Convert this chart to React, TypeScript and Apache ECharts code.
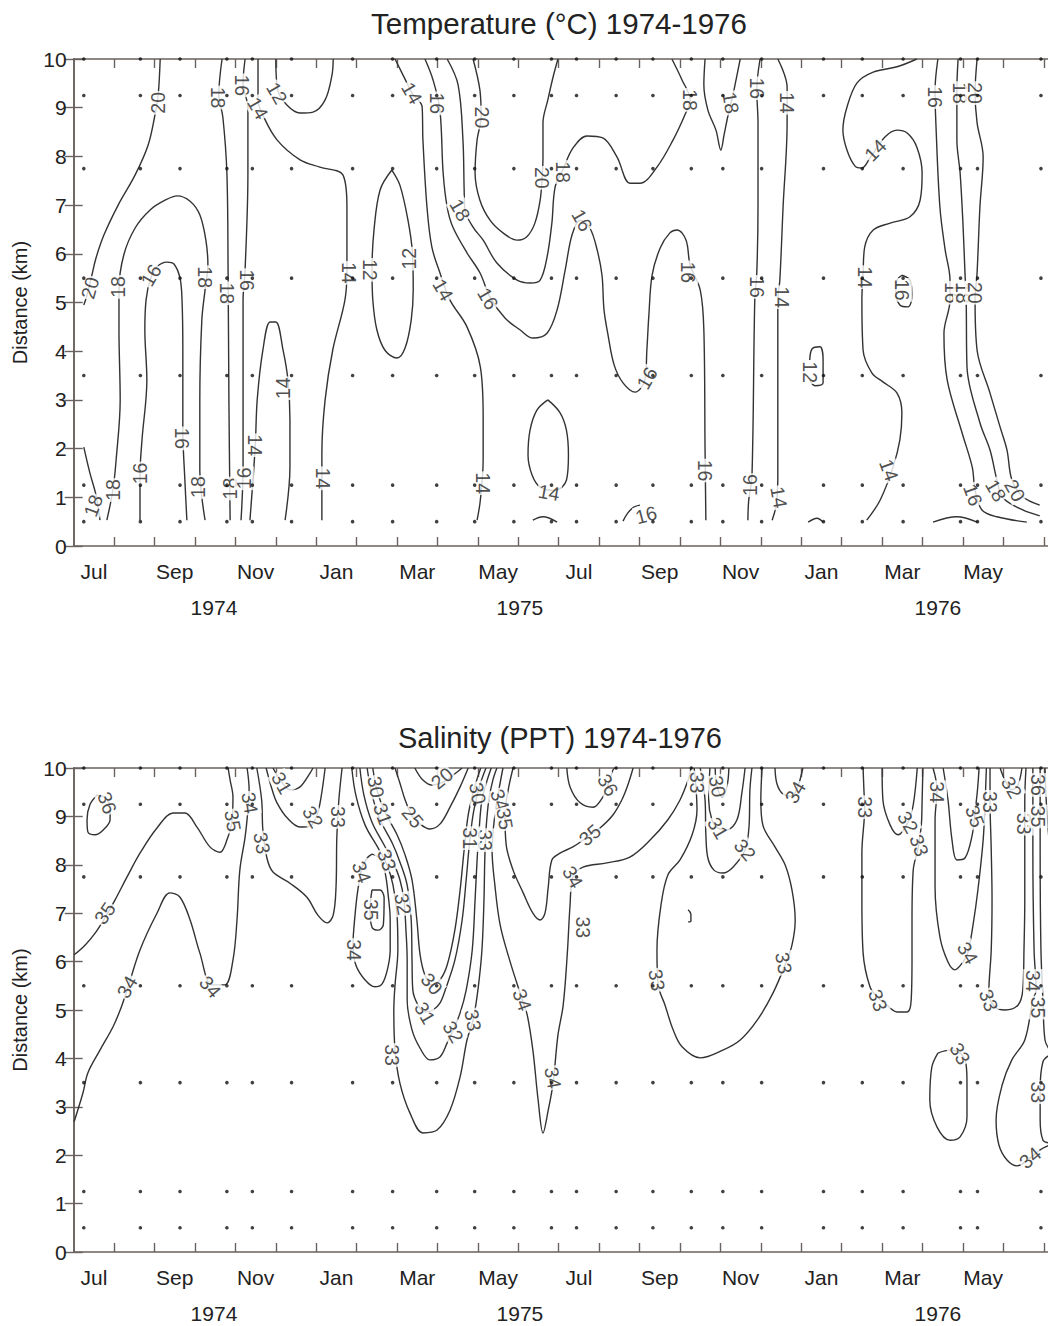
import React, { useEffect, useRef } from "react";
import * as echarts from "echarts";

// Time axis: months after 1 Jul 1974.  Depth axis: distance in km.
const X_MAX = 24.2;
const MONTH_NAMES = ["Jul", "Aug", "Sep", "Oct", "Nov", "Dec", "Jan", "Feb", "Mar", "Apr", "May", "Jun"];
const MONTH_LABEL_AT = [0.5, 2.5, 4.5, 6.5, 8.5, 10.5, 12.5, 14.5, 16.5, 18.5, 20.5, 22.5];
const MONTH_TICKS = [1, 2, 3, 4, 5, 6, 7, 8, 9, 10, 11, 12, 13, 14, 15, 16, 17, 18, 19, 20, 21, 22, 23, 24];
const YEARS = ["1974", "1975", "1976"];
const YEAR_AT = [3.47, 11.04, 21.38];

// Sampling survey dates (months) and station distances (km)
const SAMPLE_MONTHS = [0.25, 1.65, 2.63, 3.79, 4.42, 5.39, 6.9, 7.89, 8.98, 9.92, 10.89, 11.82, 12.44, 13.42, 14.33, 15.28, 16.06, 17.02, 18.55, 19.51, 20.52, 21.94, 22.36, 23.93];
const SAMPLE_KM = [0.5, 1.25, 3.5, 5.5, 7.75, 9.25, 10];

// ---------- Temperature isotherms ([month, km]) ----------
const T20_A = [[2.14, 10], [2.09, 9.26], [2.01, 8.85], [1.84, 8.23], [1.52, 7.62], [1.1, 7.0], [0.75, 6.39], [0.55, 5.91], [0.45, 5.56], [0.33, 5.15], [0.25, 4.95]];
const T18_A = [[0.82, 0.53], [0.97, 1.15], [1.05, 1.77], [1.15, 3.0], [1.12, 4.44], [1.12, 5.26], [1.24, 5.98], [1.52, 6.53], [1.89, 6.9], [2.26, 7.1], [2.56, 7.19], [2.88, 7.08], [3.12, 6.8], [3.27, 6.28], [3.32, 5.77], [3.25, 5.26], [3.17, 4.64], [3.12, 3.0], [3.12, 1.56], [3.25, 0.53]];
const T16_A = [[1.64, 0.53], [1.64, 1.46], [1.69, 2.18], [1.81, 3.41], [1.76, 4.44], [1.79, 5.05], [1.89, 5.46], [2.06, 5.73], [2.31, 5.83], [2.48, 5.79], [2.63, 5.5], [2.68, 5.05], [2.7, 4.02], [2.7, 2.38], [2.75, 1.36], [2.8, 0.53]];
const T18_B = [[0.25, 2.03], [0.4, 1.5], [0.55, 1.05], [0.65, 0.53]];
const T18_C = [[3.67, 10], [3.59, 9.26], [3.69, 8.81], [3.79, 7.66], [3.82, 5.6], [3.84, 2.99], [3.87, 0.53]];
const T16_B = [[4.24, 10], [4.19, 9.5], [4.31, 9.0], [4.31, 7.65], [4.24, 5.66], [4.19, 5.05], [4.19, 1.62], [4.14, 0.53]];
const T14_A = [[4.56, 10], [4.56, 9.16], [4.68, 8.85], [5.03, 8.34], [5.6, 7.93], [6.09, 7.78], [6.66, 7.62], [6.76, 6.96], [6.76, 5.67], [6.71, 5.05], [6.41, 4.03], [6.22, 3.0], [6.14, 1.91], [6.14, 0.53]];
const T14_B = [[4.36, 0.53], [4.49, 2.03], [4.54, 3.0], [4.68, 4.02], [4.86, 4.6], [5.0, 4.6], [5.18, 4.02], [5.3, 3.41], [5.35, 2.59], [5.35, 1.62], [5.23, 0.53]];
const T12_A = [[5.0, 10], [5.05, 9.36], [5.28, 9.05], [5.6, 8.89], [5.92, 8.91], [6.22, 9.16], [6.39, 9.67], [6.42, 10]];
const T12_B = [[7.87, 7.72], [7.58, 7.31], [7.43, 6.49], [7.38, 5.67], [7.4, 5.05], [7.5, 4.44], [7.7, 4.02], [8.0, 3.86], [8.2, 4.07], [8.35, 4.64], [8.4, 5.26], [8.38, 6.02], [8.27, 6.69], [8.07, 7.41], [7.87, 7.72]];
const T14_C = [[7.95, 10], [8.25, 9.5], [8.37, 9.3], [8.62, 9.02], [8.64, 8.34], [8.74, 6.96], [8.86, 6.14], [9.06, 5.61], [9.31, 5.05], [9.73, 4.5], [10.06, 3.68], [10.13, 2.65], [10.13, 1.77], [10.06, 0.94], [9.98, 0.53]];
const T16_C = [[8.69, 10], [8.89, 9.57], [9.06, 8.95], [9.14, 7.66], [9.24, 6.96], [9.38, 6.55], [9.73, 6.02], [10.05, 5.61], [10.3, 5.11], [10.67, 4.68], [11.04, 4.44], [11.36, 4.27], [11.71, 4.37], [11.96, 4.85], [12.16, 5.67], [12.33, 6.39], [12.53, 6.69], [12.77, 6.53], [12.95, 6.08], [13.07, 5.56], [13.12, 4.85], [13.22, 4.33], [13.37, 3.72], [13.59, 3.35], [13.89, 3.16], [14.13, 3.41], [14.18, 4.02], [14.23, 4.74], [14.31, 5.56], [14.51, 6.12], [14.75, 6.43], [14.93, 6.49], [15.15, 6.28], [15.25, 5.77], [15.5, 5.26], [15.59, 4.44], [15.62, 1.97], [15.64, 0.53]];
const T18_D = [[9.24, 10], [9.51, 9.47], [9.63, 8.34], [9.66, 7.31], [9.68, 6.9], [9.88, 6.55], [10.13, 6.28], [10.47, 5.81], [10.97, 5.46], [11.29, 5.4], [11.54, 5.46], [11.71, 5.93], [11.83, 6.63], [11.91, 7.37], [12.1, 7.72], [12.35, 8.17], [12.7, 8.42], [13.09, 8.38], [13.44, 7.99], [13.76, 7.45], [14.01, 7.45], [14.43, 7.78], [14.83, 8.34], [15.12, 8.85], [15.25, 9.16], [15.05, 9.57], [14.8, 10]];
const T20_B = [[9.88, 10], [10.05, 9.36], [10.08, 8.81], [9.98, 8.34], [9.93, 7.66], [10.05, 7.1], [10.3, 6.69], [10.62, 6.43], [10.97, 6.28], [11.21, 6.35], [11.41, 6.63], [11.54, 7.1], [11.59, 7.58], [11.61, 7.99], [11.61, 8.69], [11.73, 9.16], [11.86, 9.63], [11.98, 10]];
const T14_E = [[11.73, 3.0], [11.46, 2.79], [11.29, 2.38], [11.24, 1.87], [11.34, 1.46], [11.54, 1.21], [11.91, 1.14], [12.19, 1.35], [12.24, 1.87], [12.19, 2.38], [12.03, 2.74], [11.73, 3.0]];
const T14_F = [[11.36, 0.53], [11.61, 0.6], [11.96, 0.49]];
const T16_D = [[13.59, 0.51], [13.71, 0.68], [13.86, 0.8], [14.01, 0.84]];
const T18_E = [[15.62, 10], [15.59, 9.47], [15.69, 8.95], [15.89, 8.54], [16.01, 8.13], [16.09, 8.44], [16.19, 8.85], [16.31, 9.26], [16.41, 9.67], [16.49, 10]];
const T16_E = [[16.98, 10], [16.9, 9.36], [16.93, 8.69], [16.93, 6.96], [16.9, 5.61], [16.85, 5.05], [16.78, 1.42], [16.7, 0.94], [16.68, 0.53]];
const T14_G = [[17.42, 10], [17.65, 9.42], [17.65, 8.69], [17.55, 6.96], [17.47, 5.46], [17.42, 5.05], [17.42, 1.36], [17.38, 0.84], [17.28, 0.53]];
const T12_C = [[18.21, 3.82], [18.27, 4.05], [18.46, 4.09], [18.54, 3.82], [18.54, 3.35], [18.34, 3.29], [18.21, 3.41]];
const T12_D = [[18.17, 0.49], [18.39, 0.57], [18.54, 0.49]];
const T14_H = [[20.86, 10], [20.37, 9.84], [19.78, 9.73], [19.38, 9.51], [19.13, 9.01], [19.03, 8.54], [19.13, 8.13], [19.33, 7.8], [19.5, 7.76], [19.7, 7.97], [20.07, 8.4], [20.37, 8.54], [20.62, 8.48], [20.86, 8.19], [20.99, 7.66], [20.94, 7.1], [20.69, 6.76], [20.2, 6.63], [19.78, 6.49], [19.57, 6.14], [19.53, 5.61], [19.5, 5.05], [19.53, 4.02], [19.75, 3.55], [20.02, 3.37], [20.37, 3.14], [20.49, 2.73], [20.44, 2.18], [20.27, 1.62], [19.95, 0.94], [19.62, 0.53]];
const T16_F = [[20.49, 5.56], [20.69, 5.46], [20.74, 5.15], [20.64, 4.91], [20.44, 4.95], [20.34, 5.2], [20.37, 5.46], [20.49, 5.56]];
const T16_G = [[21.38, 10], [21.31, 9.36], [21.33, 8.69], [21.43, 6.96], [21.56, 6.08], [21.68, 5.46], [21.68, 5.05], [21.53, 4.37], [21.61, 3.41], [21.98, 2.32], [22.23, 1.62], [22.3, 1.15], [22.47, 0.74], [22.84, 0.6], [23.58, 0.49]];
const T18_F = [[21.88, 10], [21.85, 9.36], [21.85, 8.34], [21.93, 7.66], [22.0, 6.63], [22.05, 5.61], [22.08, 5.05], [22.1, 3.68], [22.42, 2.53], [22.67, 1.97], [22.84, 1.36], [22.99, 0.99], [23.48, 0.74], [23.9, 0.62]];
const T20_C = [[22.35, 10], [22.3, 9.3], [22.35, 8.69], [22.5, 7.99], [22.42, 6.96], [22.35, 5.61], [22.3, 5.05], [22.35, 4.02], [22.67, 3.14], [22.92, 2.44], [23.09, 1.97], [23.21, 1.36], [23.48, 1.01], [23.9, 0.84]];
const T16_H = [[21.26, 0.49], [21.85, 0.6], [22.35, 0.49]];

const TEMP_LINES = [T20_A, T18_A, T16_A, T18_B, T18_C, T16_B, T14_A, T14_B, T12_A, T12_B, T14_C, T16_C, T18_D, T20_B, T14_E, T14_F, T16_D, T18_E, T16_E, T14_G, T12_C, T12_D, T14_H, T16_F, T16_G, T18_F, T20_C, T16_H];

// Inline isotherm labels: [month, km, °C] and their text angles
const TEMP_LABELS = [
  [2.09, 9.1, 20], [0.4, 5.3, 20],
  [1.1, 5.32, 18], [3.25, 5.52, 18], [0.97, 1.15, 18], [3.07, 1.21, 18],
  [1.91, 5.56, 16], [1.64, 1.49, 16], [2.68, 2.21, 16],
  [0.48, 0.83, 18],
  [3.57, 9.21, 18], [3.79, 5.19, 18], [3.87, 1.18, 18],
  [4.16, 9.46, 16], [4.29, 5.46, 16], [4.21, 1.39, 16],
  [4.56, 8.99, 14], [6.81, 5.61, 14], [6.17, 1.39, 14],
  [4.49, 2.07, 14], [5.18, 3.24, 14],
  [5.03, 9.3, 12],
  [7.33, 5.67, 12], [8.3, 5.9, 12],
  [8.37, 9.3, 14], [9.14, 5.26, 14], [10.13, 1.29, 14],
  [8.99, 9.09, 16], [10.25, 5.08, 16], [12.58, 6.69, 16], [14.18, 3.45, 16], [15.2, 5.62, 16], [15.62, 1.55, 16],
  [9.56, 6.9, 18], [12.1, 7.68, 18], [15.25, 9.16, 18],
  [10.1, 8.8, 20], [11.59, 7.56, 20],
  [11.76, 1.1, 14],
  [14.16, 0.64, 16],
  [16.26, 9.1, 18],
  [16.9, 9.4, 16], [16.9, 5.32, 16], [16.73, 1.25, 16],
  [17.65, 9.1, 14], [17.52, 5.11, 14], [17.45, 1.0, 14],
  [18.22, 3.57, 12],
  [19.83, 8.13, 14], [19.58, 5.52, 14], [20.17, 1.56, 14],
  [20.5, 5.26, 16],
  [21.31, 9.22, 16], [21.73, 5.2, 16], [22.25, 1.05, 16],
  [21.93, 9.3, 18], [22.0, 5.2, 18], [22.82, 1.14, 18],
  [22.3, 9.3, 20], [22.3, 5.2, 20], [23.29, 1.14, 20],
];
const TEMP_LABEL_ANGLES = [
  90, 75,
  90, -90, 90, 90,
  60, 90, -90,
  70,
  -90, -90, 90,
  -90, -90, 90,
  -60, -90, -90,
  -90, 90,
  -60,
  -90, 90,
  -60, -60, -90,
  -90, -60, -60, 60, -90, -90,
  -60, -90, -90,
  -90, -90,
  -10,
  15,
  -80,
  -90, -90, 90,
  -90, -90, -80,
  -90,
  45, -90, -70,
  -90,
  -90, -90, -70,
  -90, -90, -60,
  -90, -90, -60,
];

// ---------- Salinity isohalines ([month, km]) ----------
const S36_A = [[0.58, 9.44], [0.75, 9.4], [0.9, 9.2], [0.9, 8.93], [0.73, 8.72], [0.53, 8.62], [0.35, 8.68], [0.33, 8.93], [0.4, 9.24], [0.58, 9.44]];
const S35_A = [[0.01, 6.14], [0.28, 6.34], [0.53, 6.59], [0.77, 6.9], [1.02, 7.27], [1.32, 7.75], [1.64, 8.24], [2.06, 8.76], [2.46, 9.07], [2.75, 9.07], [3.05, 8.78], [3.37, 8.37], [3.62, 8.26], [3.79, 8.51], [3.92, 8.93], [3.94, 9.4], [3.87, 9.75], [3.82, 10]];
const S34_A = [[0.01, 2.69], [0.23, 3.29], [0.35, 3.7], [0.65, 4.17], [0.97, 4.65], [1.15, 5.0], [1.32, 5.41], [1.64, 6.24], [2.06, 7.0], [2.38, 7.42], [2.63, 7.33], [2.88, 6.86], [3.12, 6.18], [3.42, 5.52], [3.74, 5.52], [3.94, 6.03], [4.04, 6.86], [4.11, 7.89], [4.24, 8.57], [4.31, 9.13], [4.34, 9.55], [4.29, 10]];
const S33_A = [[4.53, 10], [4.65, 9.34], [4.68, 8.72], [4.78, 8.14], [4.93, 7.85], [5.35, 7.62], [5.77, 7.33], [6.04, 6.96], [6.27, 6.8], [6.42, 6.96], [6.49, 7.54], [6.51, 8.57], [6.56, 9.34], [6.64, 10]];
const S31_A = [[4.93, 10], [5.1, 9.77], [5.35, 9.55], [5.6, 9.61], [5.85, 9.9], [5.92, 10]];
const S32_A = [[4.76, 10], [4.91, 9.55], [5.03, 9.28], [5.28, 8.97], [5.6, 8.78], [5.85, 8.8], [6.02, 9.03], [6.12, 9.4], [6.22, 10]];
const S34_B = [[7.38, 8.22], [7.26, 8.14], [7.13, 7.93], [7.03, 7.48], [6.96, 6.96], [6.91, 6.34], [6.98, 5.93], [7.21, 5.62], [7.45, 5.48], [7.63, 5.54], [7.76, 5.83], [7.83, 6.24], [7.83, 6.86], [7.78, 7.38], [7.7, 7.85], [7.56, 8.14], [7.38, 8.22]];
const S35_B = [[7.38, 7.48], [7.58, 7.48], [7.68, 7.31], [7.66, 6.76], [7.53, 6.65], [7.38, 6.71], [7.33, 7.07], [7.38, 7.48]];
const S33_B = [[6.88, 10], [6.98, 9.44], [7.21, 8.82], [7.53, 8.35], [7.75, 8.0], [7.9, 7.58], [8.0, 6.96], [8.02, 6.24], [7.95, 5.52], [7.92, 5.0], [7.95, 4.17], [8.07, 3.49], [8.32, 2.87], [8.64, 2.46], [8.99, 2.52], [9.31, 2.93], [9.56, 3.62], [9.73, 4.38], [9.88, 4.79], [10.0, 5.41], [10.1, 6.24], [10.15, 7.27], [10.17, 8.1], [10.2, 8.72], [10.27, 9.34], [10.37, 9.75], [10.47, 10]];
const S32_B = [[7.08, 10], [7.18, 9.44], [7.38, 8.88], [7.68, 8.41], [7.9, 8.06], [8.07, 7.69], [8.17, 7.27], [8.22, 6.65], [8.25, 6.03], [8.25, 5.21], [8.37, 4.59], [8.57, 4.21], [8.81, 3.97], [9.06, 4.03], [9.24, 4.32], [9.39, 4.59], [9.56, 4.94], [9.71, 5.41], [9.86, 6.24], [9.93, 7.27], [9.98, 8.1], [10.03, 8.72], [10.1, 9.34], [10.23, 9.75], [10.33, 10]];
const S31_B = [[7.26, 10], [7.38, 9.44], [7.58, 8.93], [7.88, 8.45], [8.07, 8.06], [8.25, 7.58], [8.35, 6.86], [8.37, 6.03], [8.39, 5.41], [8.52, 5.1], [8.69, 4.96], [8.89, 5.0], [9.06, 5.14], [9.19, 5.41], [9.43, 6.03], [9.61, 6.86], [9.71, 7.69], [9.8, 8.51], [9.9, 9.13], [10.05, 9.65], [10.2, 10]];
const S30_A = [[7.4, 10], [7.5, 9.55], [7.7, 9.09], [8.0, 8.62], [8.2, 8.2], [8.37, 7.69], [8.49, 6.86], [8.57, 6.14], [8.69, 5.72], [8.86, 5.52], [9.06, 5.62], [9.24, 5.93], [9.43, 6.65], [9.56, 7.48], [9.66, 8.31], [9.76, 9.03], [9.9, 9.55], [10.07, 10]];
const S25_A = [[7.95, 10], [8.07, 9.69], [8.2, 9.34], [8.37, 9.01], [8.57, 8.84], [8.81, 8.74], [9.06, 8.84], [9.31, 9.19], [9.56, 9.61], [9.76, 10]];
const S20_A = [[8.44, 10], [8.62, 9.77], [8.86, 9.65], [9.19, 9.73], [9.43, 9.88], [9.61, 10]];
const S34_C = [[10.62, 10], [10.52, 9.55], [10.42, 9.03], [10.35, 8.31], [10.42, 7.58], [10.55, 6.76], [10.8, 5.99], [11.1, 5.21], [11.22, 4.9], [11.36, 4.17], [11.49, 3.14], [11.61, 2.46], [11.74, 2.93], [11.86, 3.49], [11.98, 4.48], [12.11, 5.1], [12.21, 6.14], [12.28, 7.17], [12.35, 7.75], [12.6, 7.95], [13.19, 8.04], [13.76, 8.16], [14.26, 8.51], [14.7, 8.93], [15.0, 9.34], [15.2, 9.75], [15.27, 10]];
const S35_C = [[10.87, 10], [10.75, 9.55], [10.67, 9.03], [10.7, 8.41], [10.87, 7.89], [11.12, 7.42], [11.36, 7.0], [11.54, 6.86], [11.66, 7.0], [11.74, 7.54], [11.83, 8.1], [12.03, 8.24], [12.35, 8.37], [12.6, 8.51], [12.77, 8.62], [13.02, 8.76], [13.34, 9.03], [13.56, 9.34], [13.71, 9.65], [13.84, 10]];
const S36_B = [[12.2, 10], [12.28, 9.61], [12.53, 9.28], [12.85, 9.19], [13.09, 9.4], [13.22, 9.65], [13.34, 9.96], [13.39, 10]];
const S33_C = [[15.35, 10], [15.4, 9.55], [15.42, 9.13], [15.3, 8.62], [15.0, 8.1], [14.7, 7.79], [14.53, 7.17], [14.43, 6.24], [14.46, 5.52], [14.63, 5.1], [14.83, 4.59], [15.05, 4.24], [15.5, 4.01], [16.06, 4.17], [16.49, 4.38], [16.91, 4.79], [17.3, 5.35], [17.6, 5.93], [17.77, 6.34], [17.85, 6.86], [17.77, 7.48], [17.6, 8.0], [17.35, 8.37], [17.05, 8.82], [17.0, 9.34], [17.03, 10]];
const S33_D = [[15.2, 7.07], [15.27, 6.98], [15.27, 6.84], [15.2, 6.82]];
const S32_C = [[15.5, 10], [15.62, 9.34], [15.64, 8.62], [15.69, 8.14], [15.84, 7.89], [16.06, 7.83], [16.31, 7.95], [16.61, 8.31], [16.71, 8.82], [16.73, 9.55], [16.78, 10]];
const S31_C = [[15.74, 10], [15.71, 9.34], [15.79, 8.93], [15.94, 8.76], [16.16, 8.72], [16.41, 8.93], [16.53, 9.48], [16.61, 10]];
const S30_B = [[15.87, 10], [15.91, 9.65], [16.04, 9.4], [16.16, 9.61], [16.21, 10]];
const S34_D = [[17.35, 10], [17.4, 9.67], [17.55, 9.46], [17.77, 9.42], [17.92, 9.63], [18.04, 10]];
const S33_E = [[19.53, 10], [19.55, 9.55], [19.57, 9.19], [19.5, 8.24], [19.5, 7.27], [19.53, 6.18], [19.7, 5.48], [19.9, 5.25], [20.12, 5.1], [20.37, 4.96], [20.62, 4.96], [20.72, 5.21], [20.74, 6.03], [20.74, 6.86], [20.77, 7.89], [20.89, 8.35], [20.97, 8.82], [20.99, 9.34], [21.01, 10]];
const S32_D = [[20.0, 10], [20.02, 9.34], [20.2, 8.82], [20.4, 8.62], [20.64, 8.88], [20.77, 9.24], [20.87, 10]];
const S34_E = [[21.26, 10], [21.36, 9.55], [21.31, 8.93], [21.31, 7.54], [21.43, 6.51], [21.63, 5.99], [21.8, 5.83], [22.0, 5.99], [22.12, 6.18], [22.25, 6.76], [22.37, 7.48], [22.5, 8.51], [22.55, 9.34], [22.58, 10]];
const S35_D = [[21.51, 10], [21.63, 9.34], [21.73, 8.51], [21.85, 8.1], [22.05, 8.14], [22.23, 8.62], [22.3, 9.09], [22.36, 9.55], [22.4, 10]];
const S33_F = [[22.67, 10], [22.67, 9.34], [22.7, 8.31], [22.72, 7.27], [22.7, 6.24], [22.64, 5.35], [22.79, 5.06], [23.04, 5.0], [23.36, 5.1], [23.48, 5.41], [23.51, 6.24], [23.53, 7.27], [23.53, 8.31], [23.53, 9.34], [23.56, 10]];
const S32_E = [[22.92, 10], [23.04, 9.75], [23.21, 9.55], [23.36, 9.65], [23.46, 10]];
const S34_F = [[23.73, 10], [23.73, 8.31], [23.76, 6.24], [23.81, 5.41], [23.73, 5.21], [23.53, 4.38], [23.21, 3.97], [22.97, 3.45], [22.82, 2.73], [22.89, 2.21], [23.09, 1.9], [23.34, 1.78], [23.66, 1.94], [23.91, 2.11], [24.15, 2.21]];
const S35_E = [[23.91, 10], [23.91, 8.31], [23.93, 6.24], [23.98, 5.21], [24.03, 4.38], [24.15, 4.17]];
const S36_C = [[24.03, 10], [24.06, 9.34], [24.11, 8.72], [24.15, 8.31]];
const S33_G = [[24.15, 4.07], [23.98, 3.93], [23.91, 3.35], [23.91, 2.73], [23.98, 2.31], [24.15, 2.25]];
const S33_H = [[21.38, 4.11], [21.68, 4.17], [21.93, 4.11], [22.08, 3.86], [22.1, 3.49], [22.1, 2.79], [21.93, 2.38], [21.68, 2.31], [21.36, 2.58], [21.18, 3.14], [21.23, 3.82], [21.38, 4.11]];

const SAL_LINES = [S36_A, S35_A, S34_A, S33_A, S31_A, S32_A, S34_B, S35_B, S33_B, S32_B, S31_B, S30_A, S25_A, S20_A, S34_C, S35_C, S36_B, S33_C, S33_D, S32_C, S31_C, S30_B, S34_D, S33_E, S32_D, S34_E, S35_D, S33_F, S32_E, S34_F, S35_E, S36_C, S33_G, S33_H];

// Inline isohaline labels: [month, km, PPT] and their text angles
const SAL_LABELS = [
  [0.83, 9.28, 36],
  [0.77, 7.0, 35], [3.94, 8.91, 35],
  [1.32, 5.48, 34], [3.38, 5.48, 34], [4.36, 9.28, 34],
  [4.66, 8.45, 33], [6.54, 8.99, 33],
  [5.15, 9.69, 31],
  [5.92, 8.99, 32],
  [7.13, 7.85, 34], [6.93, 6.24, 34],
  [7.35, 7.07, 35],
  [7.75, 8.1, 33], [7.88, 4.07, 33], [9.88, 4.79, 33], [10.17, 8.51, 33],
  [8.15, 7.19, 32], [9.39, 4.55, 32],
  [7.65, 9.05, 31], [8.69, 4.94, 31], [9.81, 8.55, 31],
  [7.48, 9.61, 30], [8.86, 5.54, 30], [10.0, 9.48, 30],
  [8.39, 8.99, 25],
  [9.11, 9.79, 20],
  [10.55, 9.34, 34], [11.1, 5.21, 34], [11.86, 3.6, 34], [12.35, 7.75, 34],
  [10.67, 8.95, 35], [12.77, 8.62, 35],
  [13.22, 9.65, 36],
  [12.6, 6.71, 33],
  [15.42, 9.7, 33], [14.43, 5.62, 33], [17.57, 5.97, 33],
  [16.61, 8.31, 32],
  [15.94, 8.76, 31],
  [15.93, 9.62, 30],
  [17.85, 9.5, 34],
  [19.57, 9.19, 33], [19.9, 5.2, 33], [20.92, 8.4, 33],
  [20.64, 8.88, 32],
  [21.36, 9.5, 34], [22.12, 6.18, 34],
  [22.3, 9.0, 35],
  [22.67, 9.3, 33], [22.64, 5.2, 33], [23.51, 8.85, 33],
  [23.21, 9.6, 32],
  [23.74, 5.6, 34], [23.66, 1.95, 34],
  [23.85, 9.0, 35], [23.85, 5.05, 35],
  [23.85, 9.65, 36],
  [23.85, 3.3, 33],
  [21.93, 4.1, 33],
];
const SAL_LABEL_ANGLES = [
  -70,
  55, -80,
  60, -50, -80,
  -80, -90,
  -60,
  -60,
  -70, -90,
  -90,
  -70, -90, -80, -90,
  -80, -60,
  -70, -60, -90,
  -80, -50, -80,
  -50,
  40,
  -70, -70, -80, -60,
  -80, 40,
  -60,
  -90,
  -90, -80, -80,
  -50,
  -60,
  -80,
  60,
  -90, -70, -70,
  -60,
  -90, -60,
  -70,
  -90, -70, -90,
  -60,
  -90, 40,
  -90, -90,
  -90,
  -90,
  -60,
];

const FONT = "'Liberation Sans', Arial, Helvetica, sans-serif";
const INK = "#222";
const AXIS_INK = "#6a625e";
const LINE_INK = "#333";

function monthAxes(gridIndex: number) {
  const base = {
    type: "value" as const,
    gridIndex,
    min: 0,
    max: X_MAX,
    splitLine: { show: false },
  };
  return [
    {
      ...base,
      position: "bottom",
      axisLine: { show: true, lineStyle: { color: AXIS_INK, width: 1.6 } },
      axisTick: { show: true, inside: true, length: 9, customValues: MONTH_TICKS, lineStyle: { color: AXIS_INK, width: 1.4 } },
      axisLabel: {
        show: true,
        customValues: MONTH_LABEL_AT,
        formatter: (v: number) => MONTH_NAMES[Math.floor(v) % 12],
        fontSize: 21,
        color: INK,
        fontFamily: FONT,
        margin: 15,
      },
    },
    {
      ...base,
      position: "bottom",
      axisLine: { show: false },
      axisTick: { show: false },
      axisLabel: {
        show: true,
        customValues: YEAR_AT,
        formatter: (v: number) => {
          const i = YEAR_AT.findIndex((p) => Math.abs(p - v) < 1e-6);
          return i >= 0 ? YEARS[i] : "";
        },
        fontSize: 21,
        color: INK,
        fontFamily: FONT,
        margin: 51,
      },
    },
    {
      ...base,
      position: "top",
      axisLine: { show: true, lineStyle: { color: AXIS_INK, width: 1.6 } },
      axisTick: { show: true, inside: true, length: 9, customValues: MONTH_TICKS, lineStyle: { color: AXIS_INK, width: 1.4 } },
      axisLabel: { show: false },
    },
  ];
}

function kmAxes(gridIndex: number) {
  return [
    {
      type: "value" as const,
      gridIndex,
      position: "left",
      min: 0,
      max: 10,
      interval: 1,
      name: "Distance (km)",
      nameLocation: "middle",
      nameGap: 44,
      nameTextStyle: { fontSize: 20, color: INK, fontFamily: FONT },
      splitLine: { show: false },
      axisLine: { show: true, lineStyle: { color: AXIS_INK, width: 1.6 } },
      axisTick: { show: true, inside: true, length: 9, lineStyle: { color: AXIS_INK, width: 1.4 } },
      axisLabel: { fontSize: 21, color: INK, fontFamily: FONT, margin: 7 },
    },
    {
      type: "value" as const,
      gridIndex,
      position: "right",
      min: 0,
      max: 10,
      interval: 1,
      splitLine: { show: false },
      axisLine: { show: true, lineStyle: { color: AXIS_INK, width: 1.6 } },
      axisTick: { show: true, inside: true, length: 9, lineStyle: { color: AXIS_INK, width: 1.4 } },
      axisLabel: { show: false },
    },
  ];
}

function lineSeries(lines: number[][][], xAxisIndex: number, yAxisIndex: number) {
  return lines.map((pts) => ({
    type: "line",
    xAxisIndex,
    yAxisIndex,
    data: pts,
    smooth: 0.35,
    symbol: "none",
    silent: true,
    clip: true,
    lineStyle: { color: LINE_INK, width: 1.4 },
    z: 2,
  }));
}

function labelSeries(labels: number[][], angles: number[], xAxisIndex: number, yAxisIndex: number) {
  return {
    type: "scatter",
    xAxisIndex,
    yAxisIndex,
    symbolSize: 1,
    silent: true,
    itemStyle: { color: "rgba(0,0,0,0)" },
    data: labels.map((l, i) => ({ value: l, label: { rotate: angles[i] } })),
    label: {
      show: true,
      position: "inside",
      formatter: (p: any) => String(p.value[2]),
      fontSize: 19.5,
      color: INK,
      fontFamily: FONT,
      backgroundColor: "#fff",
      padding: [0, 1],
    },
    z: 4,
  };
}

function stationSeries(xAxisIndex: number, yAxisIndex: number) {
  const pts: number[][] = [];
  SAMPLE_MONTHS.forEach((m) => SAMPLE_KM.forEach((k) => pts.push([m, k])));
  return {
    type: "scatter",
    xAxisIndex,
    yAxisIndex,
    data: pts,
    symbol: "circle",
    symbolSize: 3.6,
    silent: true,
    itemStyle: { color: "#111" },
    z: 6,
  };
}

export default function App() {
  const ref = useRef<HTMLDivElement>(null);

  useEffect(() => {
    if (!ref.current) return;
    const chart = echarts.init(ref.current, undefined, { renderer: "svg" });
    const gridLeft = 73.7;
    const gridWidth = X_MAX * 40.42;
    chart.setOption({
      animation: false,
      backgroundColor: "#fff",
      textStyle: { fontFamily: FONT },
      grid: [
        { left: gridLeft, top: 59, width: gridWidth, height: 487 },
        { left: gridLeft, top: 768, width: gridWidth, height: 484 },
      ],
      xAxis: [...monthAxes(0), ...monthAxes(1)],
      yAxis: [...kmAxes(0), ...kmAxes(1)],
      graphic: [
        {
          type: "text",
          x: 559,
          y: 23,
          style: { text: "Temperature (°C) 1974-1976", fontSize: 29.5, fill: INK, fontFamily: FONT, textAlign: "center", textVerticalAlign: "middle" },
        },
        {
          type: "text",
          x: 560,
          y: 738,
          style: { text: "Salinity (PPT) 1974-1976", fontSize: 29, fill: INK, fontFamily: FONT, textAlign: "center", textVerticalAlign: "middle" },
        },
      ],
      series: [
        ...lineSeries(TEMP_LINES, 0, 0),
        labelSeries(TEMP_LABELS, TEMP_LABEL_ANGLES, 0, 0),
        stationSeries(0, 0),
        ...lineSeries(SAL_LINES, 3, 2),
        labelSeries(SAL_LABELS, SAL_LABEL_ANGLES, 3, 2),
        stationSeries(3, 2),
      ],
    });
    return () => chart.dispose();
  }, []);

  return (
    <div style={{ position: "absolute", left: 0, top: 0, width: 1048, height: 1326, overflow: "hidden", background: "#fff" }}>
      <div ref={ref} style={{ width: 1060, height: 1326 }} />
    </div>
  );
}
